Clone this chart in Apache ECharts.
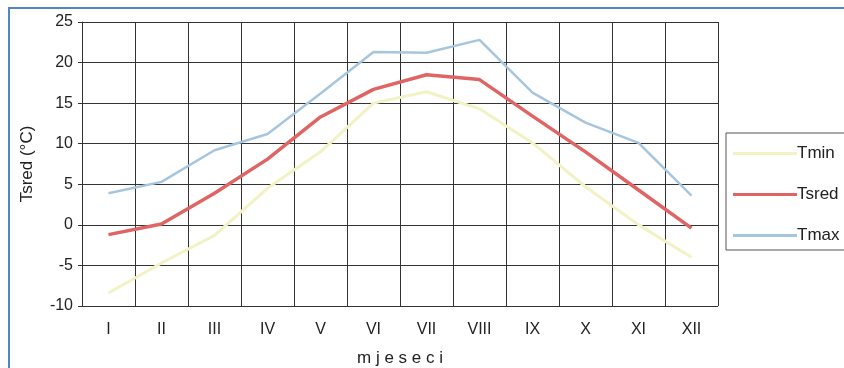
<!DOCTYPE html>
<html>
<head>
<meta charset="utf-8">
<script src="https://cdn.jsdelivr.net/npm/echarts@6/dist/echarts.min.js"></script>
<style>html,body{margin:0;padding:0;background:#fff;}#c{width:844px;height:368px;}</style>
</head>
<body>
<div id="c"></div>
<script>
const months = ['I','II','III','IV','V','VI','VII','VIII','IX','X','XI','XII'];
const tmin  = [-8.4, -4.7, -1.3, 4.5, 9.0, 15.0, 16.4, 14.3, 10.1, 4.7, 0.0, -4.0];
const tsred = [-1.2, 0.1, 3.9, 8.1, 13.3, 16.7, 18.5, 17.9, 13.4, 9.0, 4.3, -0.4];
const tmax  = [3.9, 5.3, 9.2, 11.2, 16.2, 21.3, 21.2, 22.8, 16.3, 12.6, 10.1, 3.6];
const yTicks = [-10, -5, 0, 5, 10, 15, 20, 25];

const chart = echarts.init(document.getElementById('c'), null, {renderer: 'canvas'});
const font = 'Liberation Sans, Arial, sans-serif';
chart.setOption({
  backgroundColor: '#ffffff',
  animation: false,
  textStyle: {fontFamily: font},
  graphic: [{
    type: 'rect', silent: true,
    shape: {x: 9, y: 8, width: 850, height: 400},
    style: {fill: 'none', stroke: '#4f86c6', lineWidth: 2}
  }],
  grid: {left: 82, right: 126, top: 22, bottom: 62, containLabel: false, outerBoundsMode: 'none'},
  legend: {
    orient: 'vertical', left: 726, top: 133,
    padding: [12, 30, 6, 7], itemGap: 24,
    itemWidth: 64, itemHeight: 3, icon: 'rect',
    borderColor: '#555', borderWidth: 1,
    textStyle: {fontSize: 17, color: '#222', padding: [0,0,0,-5], fontFamily: font},
    data: ['Tmin', 'Tsred', 'Tmax']
  },
  xAxis: {
    type: 'category', data: months, boundaryGap: true,
    name: 'm j e s e c i', nameLocation: 'middle', nameGap: 44,
    nameTextStyle: {fontSize: 17, color: '#222', fontFamily: font},
    axisLine: {show: true, lineStyle: {color: '#333', width: 1}},
    axisTick: {show: true, length: 5, lineStyle: {color: '#333'}},
    axisLabel: {fontSize: 16, color: '#222', margin: 16, fontFamily: font},
    splitLine: {show: true, lineStyle: {color: '#333', width: 1}}
  },
  yAxis: {
    type: 'value', min: -10, max: 25, interval: 5,
    name: 'Tsred (°C)', nameLocation: 'middle', nameGap: 46, nameRotate: 90,
    nameTextStyle: {fontSize: 17, color: '#222', fontFamily: font},
    axisLine: {show: true, lineStyle: {color: '#333'}},
    axisTick: {show: true, length: 4, lineStyle: {color: '#333'}},
    axisLabel: {fontSize: 16, color: '#222', margin: 9, fontFamily: font,
      formatter: v => yTicks.includes(v) ? String(v) : ''},
    splitLine: {show: true, lineStyle: {color: '#333', width: 1}}
  },
  series: [
    {name: 'Tmin', type: 'line', data: tmin, symbol: 'none',
     lineStyle: {color: '#f2f2c4', width: 3}, itemStyle: {color: '#f2f2c4'}},
    {name: 'Tsred', type: 'line', data: tsred, symbol: 'none',
     lineStyle: {color: '#e06464', width: 3.5}, itemStyle: {color: '#e06464'}},
    {name: 'Tmax', type: 'line', data: tmax, symbol: 'none',
     lineStyle: {color: '#a6c6df', width: 2.5}, itemStyle: {color: '#a6c6df'}}
  ]
});
</script>
</body>
</html>
